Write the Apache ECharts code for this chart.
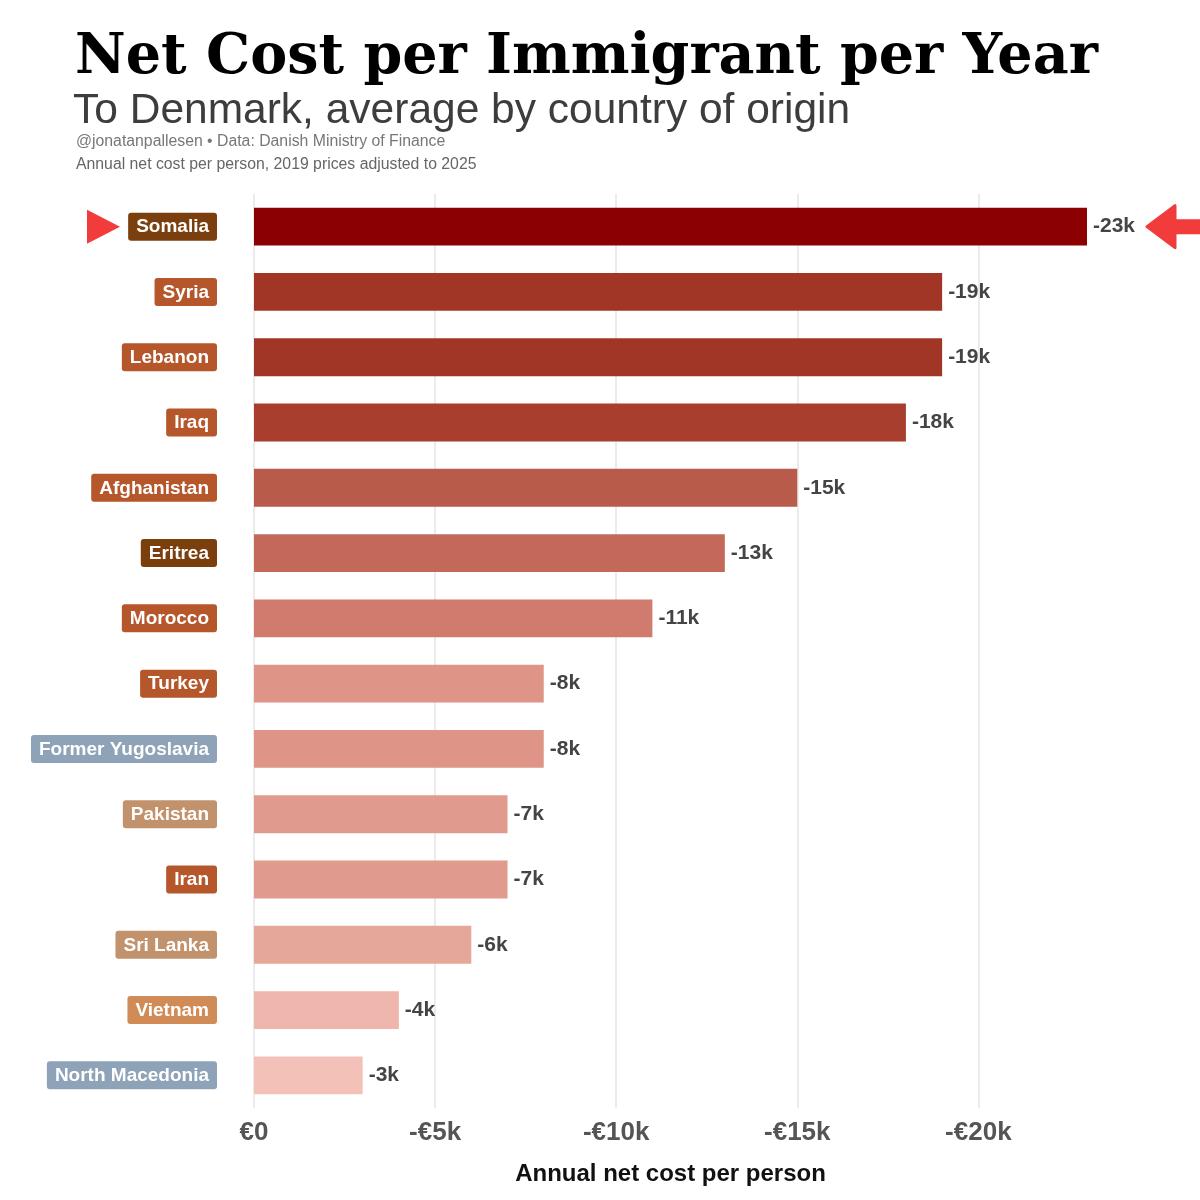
<!DOCTYPE html>
<html>
<head>
<meta charset="utf-8">
<script src="https://cdn.jsdelivr.net/npm/echarts@6/dist/echarts.min.js"></script>
<style>
html,body{margin:0;padding:0;background:#fff;}
#chart{width:1200px;height:1200px;}
</style>
</head>
<body>
<div id="chart"></div>
<script>
// ---- data ----
const countries = ['Somalia','Syria','Lebanon','Iraq','Afghanistan','Eritrea','Morocco','Turkey','Former Yugoslavia','Pakistan','Iran','Sri Lanka','Vietnam','North Macedonia'];
const netCost = [-23,-19,-19,-18,-15,-13,-11,-8,-8,-7,-7,-6,-4,-3];   // thousand EUR per person per year
const regions = ['eastAfrica','mena','mena','mena','mena','eastAfrica','mena','mena','balkans','southAsia','mena','southAsia','seAsia','balkans'];
const barColors = ['#8b0000','#a23626','#a23626','#a83e2e','#b95b4a','#c4695a','#d07b6d','#de9487','#de9487','#e09b8e','#e09b8e','#e6a79b','#efb6ae','#f4c1b9'];
const regionColors = {eastAfrica:'#7b3f0e', mena:'#b5572b', balkans:'#8ea3b8', southAsia:'#c1926c', seAsia:'#d18b56'};
const xTicks = [0,5,10,15,20];           // shown as €0, -€5k, ...
const highlight = 'Somalia';

const FONT = 'Liberation Sans, Arial, sans-serif';
const chart = echarts.init(document.getElementById('chart'));
const rich = {};
Object.keys(regionColors).forEach(k => {
  rich[k] = {
    backgroundColor: regionColors[k], color:'#fff', fontWeight:'bold', fontSize:19,
    fontFamily:FONT, padding:[5,8,4,8], borderRadius:3, lineHeight:20
  };
});

const option = {
  backgroundColor:'#fff',
  animation:false,
  title:[
    {text:'Net Cost per Immigrant per Year', left:75, top:31, padding:0,
     textStyle:{fontFamily:'DejaVu Serif, Georgia, serif', fontWeight:'bold', fontSize:55.5, color:'#000'}},
    {text:'To Denmark, average by country of origin', left:73, top:90, padding:0,
     textStyle:{fontFamily:FONT, fontWeight:'normal', fontSize:42.5, color:'#3d3d3d'}},
    {text:'@jonatanpallesen • Data: Danish Ministry of Finance', left:76, top:134, padding:0,
     textStyle:{fontFamily:FONT, fontWeight:'normal', fontSize:15.8, color:'#777'}},
    {text:'Annual net cost per person, 2019 prices adjusted to 2025', left:76, top:157, padding:0,
     textStyle:{fontFamily:FONT, fontWeight:'normal', fontSize:15.8, color:'#666'}}
  ],
  grid:{left:254, right:113, top:194, bottom:92, containLabel:false},
  xAxis:{
    type:'value', min:0, max:23, interval:5,
    axisLine:{show:false}, axisTick:{show:false},
    splitLine:{show:true, showMaxLine:false, lineStyle:{color:'#e4e4e4', width:1.5}},
    axisLabel:{
      margin:12, fontSize:26, fontWeight:'bold', color:'#555', fontFamily:FONT, showMaxLabel:false,
      formatter: v => xTicks.indexOf(v) < 0 ? '' : (v === 0 ? '€0' : '-€' + v + 'k')
    },
    name:'Annual net cost per person', nameLocation:'middle', nameGap:54,
    nameTextStyle:{fontSize:24, fontWeight:'bold', color:'#111', fontFamily:FONT}
  },
  yAxis:{
    type:'category', inverse:true, data:countries,
    axisLine:{show:false}, axisTick:{show:false}, splitLine:{show:false},
    axisLabel:{
      margin:37, rich:rich,
      formatter:(v, i) => '{' + regions[i] + '|' + v + '}'
    }
  },
  series:[{
    type:'bar', barCategoryGap:'42%',
    data: netCost.map((v,i) => ({value:-v, itemStyle:{color:barColors[i]}})),
    label:{
      show:true, position:'right', distance:6, fontSize:21, fontWeight:'bold', color:'#444',
      fontFamily:FONT,
      formatter: p => '-' + p.value + 'k'
    }
  }]
};
chart.setOption(option);

// Annotation arrows anchored to the highlighted bar via the chart's scales
const hi = countries.indexOf(highlight);
const barEnd = chart.convertToPixel({gridIndex:0}, [-netCost[hi], highlight]);
const axisStart = chart.convertToPixel({gridIndex:0}, [0, highlight]);
const cy = barEnd[1];
const tipR = barEnd[0] + 60;
const tipL = axisStart[0] - 167;
chart.setOption({
  graphic:[
    {type:'polygon', shape:{points:[[tipL, cy-17],[tipL, cy+17],[tipL+33, cy]]}, style:{fill:'#f23b3b'}},
    {type:'polygon', shape:{points:[[tipR, cy],[tipR+28, cy-21],[tipR+28, cy-6],[1200, cy-6],[1200, cy+6],[tipR+28, cy+6],[tipR+28, cy+21]]},
     style:{fill:'#f23b3b', stroke:'#f23b3b', lineWidth:3, lineJoin:'round'}}
  ]
});
</script>
</body>
</html>
